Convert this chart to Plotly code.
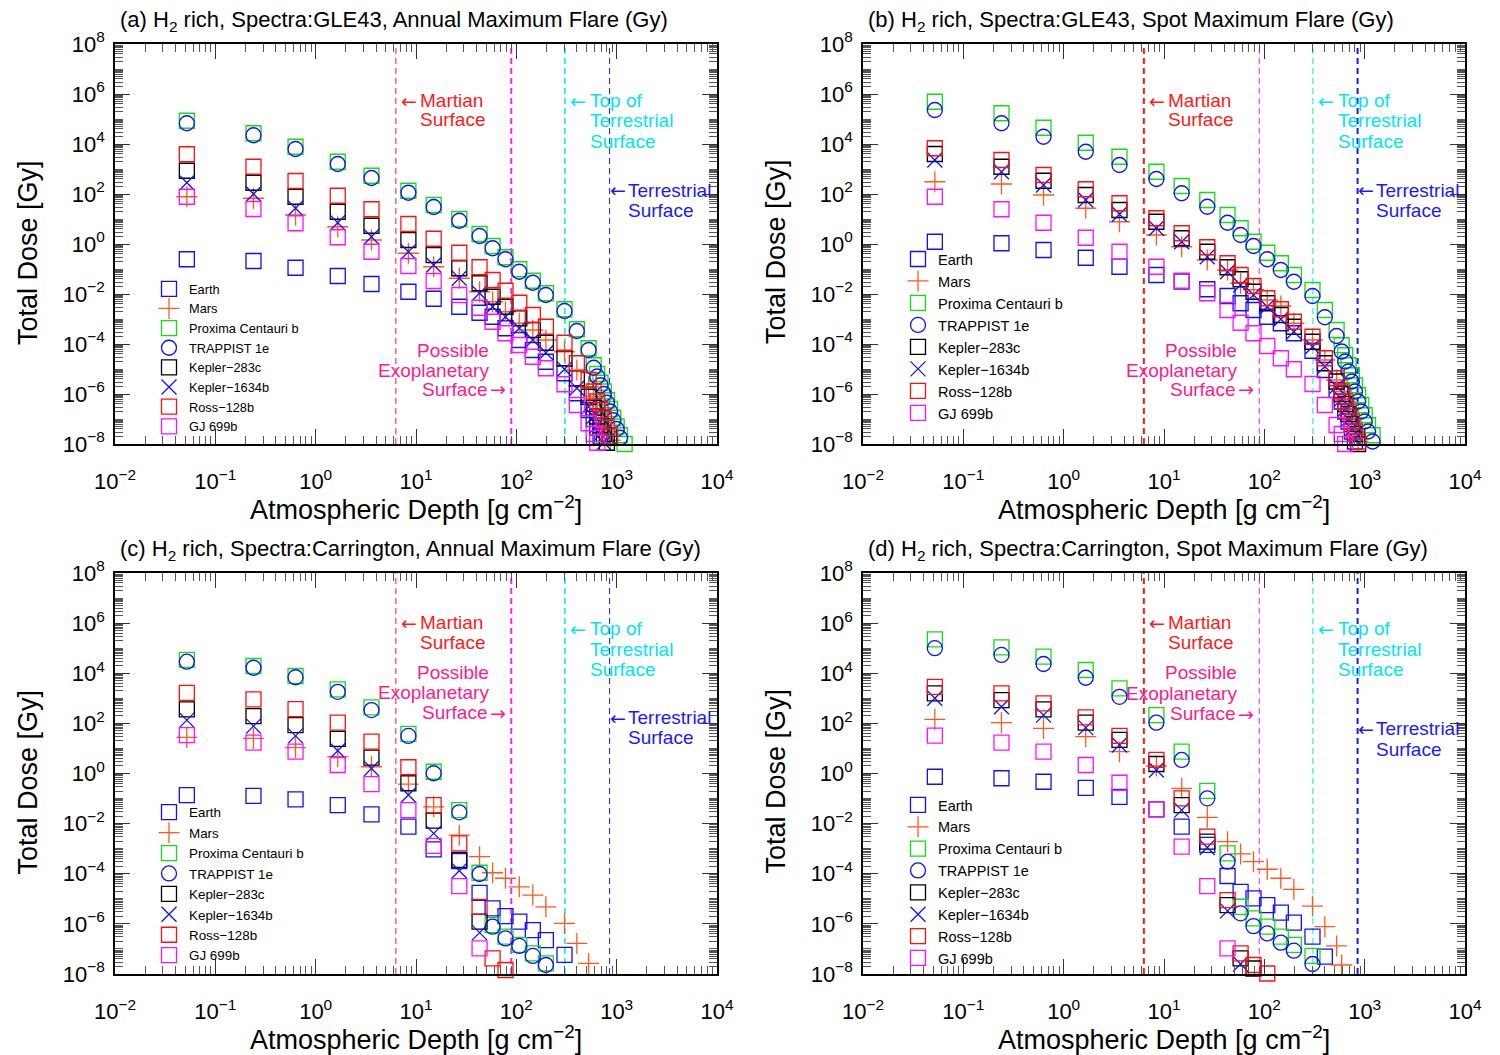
import math
import plotly.graph_objects as go

W, H = 1500, 1055
FONT = "Liberation Sans, Arial, Helvetica, sans-serif"
ARROW_FONT = "DejaVu Sans, Liberation Sans, sans-serif"

# ---------------- data ----------------
# Atmospheric depth grid [g cm^-2]
DEPTH = [0.052, 0.24, 0.63, 1.66, 3.6, 8.4, 15, 27, 43, 58, 78, 107, 146, 197,
         302, 401, 525, 590, 640, 690, 745, 800, 860, 925, 1000, 1080, 1200]

SERIES = ["Earth", "Mars", "Proxima Centauri b", "TRAPPIST 1e",
          "Kepler\u2212283c", "Kepler\u22121634b", "Ross\u2212128b", "GJ 699b"]

# log10(Total Dose [Gy]) per series, panel (a) GLE43 annual maximum
A_EARTH = [-0.61, -0.68, -0.95, -1.28, -1.6, -1.91, -2.19, -2.51, -2.75, -2.91, -3.37, -3.84, -4.24, -4.71, -5.17, -5.97, -6.64, -7.0, -7.35, -7.7, -8.05]
A_MARS = [1.89, 1.83, 1.16, 0.69, 0.16, -0.37, -0.91, -1.37, -1.91, -2.31, -2.71, -3.17, -3.44, -3.84, -4.31, -5.04, -5.71, -6.1, -6.45, -6.8, -7.15, -7.5, -7.85, -8.2]
A_PROX = [4.93, 4.43, 3.89, 3.29, 2.73, 2.13, 1.56, 1.0, 0.4, -0.08, -0.53, -1.01, -1.47, -1.97, -2.61, -3.41, -4.17, -4.85, -5.2, -5.55, -5.9, -6.25, -6.6, -6.95, -7.3, -7.65, -8.0]
A_TRAP = [4.83, 4.35, 3.8, 3.2, 2.64, 2.05, 1.48, 0.93, 0.32, -0.17, -0.61, -1.11, -1.55, -2.04, -2.68, -3.48, -4.24, -4.95, -5.3, -5.65, -6.0, -6.35, -6.7, -7.05, -7.4, -7.75, -8.1]
A_K283 = [2.93, 2.45, 1.89, 1.29, 0.73, 0.16, -0.44, -0.97, -1.57, -2.11, -2.51, -2.97, -3.44, -3.95, -4.57, -5.37, -6.11, -6.55, -6.9, -7.25, -7.6, -7.95, -8.3]
A_K1634 = [2.45, 2.0, 1.43, 0.85, 0.29, -0.31, -0.84, -1.37, -1.97, -2.51, -2.91, -3.37, -3.84, -4.35, -5.01, -5.77, -6.51, -6.9, -7.25, -7.6, -7.95, -8.3]
A_ROSS = [3.59, 3.09, 2.52, 1.93, 1.39, 0.8, 0.21, -0.35, -0.93, -1.44, -1.87, -2.35, -2.84, -3.31, -3.95, -4.77, -5.44, -5.9, -6.3, -6.65, -7.0, -7.35, -7.7, -8.05]
A_GJ = [1.89, 1.4, 0.83, 0.27, -0.31, -0.88, -1.48, -2.04, -2.55, -3.11, -3.57, -4.04, -4.51, -4.97, -5.61, -6.44, -7.17, -7.6, -7.95, -8.3]

# panel (b) GLE43 spot maximum
B_EARTH = [0.09, 0.03, -0.24, -0.55, -0.91, -1.24, -1.5, -1.81, -2.08, -2.37, -2.64, -2.91, -3.17, -3.57, -4.27, -5.04, -5.84, -6.3, -6.7, -7.1, -7.5, -7.9]
B_MARS = [2.49, 2.4, 1.96, 1.43, 0.89, 0.36, -0.11, -0.64, -1.04, -1.57, -1.83, -2.24, -2.48, -3.17, -3.84, -4.64, -5.44, -5.9, -6.3, -6.7, -7.1, -7.5, -7.9]
B_PROX = [5.69, 5.23, 4.65, 4.05, 3.49, 2.89, 2.32, 1.76, 1.16, 0.63, 0.09, -0.35, -0.77, -1.24, -1.84, -2.64, -3.44, -4.05, -4.45, -4.85, -5.25, -5.65, -6.05, -6.45, -6.85, -7.25, -7.65]
B_TRAP = [5.36, 4.83, 4.29, 3.69, 3.16, 2.6, 2.03, 1.49, 0.85, 0.36, -0.08, -0.61, -1.04, -1.51, -2.08, -2.93, -3.68, -4.3, -4.7, -5.1, -5.5, -5.9, -6.3, -6.7, -7.1, -7.5, -7.9]
B_K283 = [3.6, 3.09, 2.53, 1.96, 1.36, 0.89, 0.23, -0.31, -0.93, -1.41, -1.91, -2.37, -2.84, -3.31, -3.91, -4.77, -5.5, -6.0, -6.4, -6.8, -7.2, -7.6, -8.0]
B_K1634 = [3.36, 2.89, 2.36, 1.76, 1.19, 0.63, 0.09, -0.51, -1.11, -1.64, -2.04, -2.51, -3.01, -3.51, -4.11, -4.9, -5.7, -6.2, -6.6, -7.0, -7.4, -7.8, -8.2]
B_ROSS = [3.83, 3.36, 2.76, 2.19, 1.63, 1.03, 0.43, -0.13, -0.77, -1.24, -1.68, -2.17, -2.61, -3.11, -3.71, -4.57, -5.37, -5.9, -6.3, -6.7, -7.1, -7.5, -7.9, -8.2]
B_GJ = [1.89, 1.39, 0.85, 0.25, -0.31, -0.91, -1.47, -1.97, -2.64, -3.15, -3.57, -4.08, -4.57, -5.01, -5.6, -6.44, -7.24, -7.6, -8.0, -8.3]

# panel (c) Carrington annual maximum
C_EARTH = [-0.86, -0.89, -1.03, -1.26, -1.63, -2.12, -3.03, -3.5, -4.76, -5.38, -5.69, -5.91, -6.25, -6.65, -7.24]
C_MARS = [1.44, 1.4, 1.03, 0.67, 0.27, -0.42, -1.33, -2.46, -3.32, -3.96, -4.18, -4.52, -4.85, -5.32, -5.98, -6.78, -7.58]
C_PROX = [4.53, 4.29, 3.89, 3.36, 2.64, 1.58, 0.07, -1.46, -3.96, -6.05, -6.51, -6.84, -7.18, -7.58]
C_TRAP = [4.46, 4.22, 3.84, 3.26, 2.53, 1.5, 0.01, -1.55, -4.01, -6.11, -6.58, -6.88, -7.28, -7.64]
C_K283 = [2.56, 2.29, 1.93, 1.38, 0.63, -0.39, -1.88, -3.45, -5.91]
C_K1634 = [2.13, 1.89, 1.5, 0.91, 0.2, -0.86, -2.39, -3.88, -6.35]
C_ROSS = [3.22, 2.96, 2.57, 2.03, 1.27, 0.25, -1.26, -2.79, -5.32, -7.38, -7.84]
C_GJ = [1.53, 1.23, 0.87, 0.34, -0.42, -1.46, -2.89, -4.49, -6.98]

# panel (d) Carrington spot maximum
D_EARTH = [-0.13, -0.19, -0.33, -0.57, -0.93, -1.43, -2.12, -2.85, -4.09, -4.72, -4.98, -5.25, -5.55, -5.95, -6.51, -7.31]
D_MARS = [2.16, 2.03, 1.8, 1.47, 0.87, 0.3, -0.59, -1.75, -2.72, -3.21, -3.52, -3.82, -4.18, -4.62, -5.29, -6.11, -6.88, -7.64]
D_PROX = [5.35, 5.03, 4.66, 4.13, 3.4, 2.33, 0.87, -0.69, -3.19, -5.32, -5.78, -6.11, -6.51, -6.84, -7.28]
D_TRAP = [5.0, 4.73, 4.37, 3.82, 3.06, 2.03, 0.54, -0.99, -3.52, -5.58, -6.09, -6.38, -6.75, -7.07, -7.6]
D_K283 = [3.2, 2.93, 2.56, 2.03, 1.34, 0.38, -1.26, -2.72, -5.25, -7.38, -7.78]
D_K1634 = [3.0, 2.66, 2.33, 1.83, 1.14, 0.14, -1.46, -2.95, -5.48, -7.6]
D_ROSS = [3.46, 3.2, 2.8, 2.24, 1.5, 0.54, -0.99, -2.52, -5.05, -7.18, -7.64, -7.98]
D_GJ = [1.51, 1.23, 0.87, 0.34, -0.37, -1.43, -2.92, -4.49, -6.98]

PANEL_DATA = [
    [A_EARTH, A_MARS, A_PROX, A_TRAP, A_K283, A_K1634, A_ROSS, A_GJ],
    [B_EARTH, B_MARS, B_PROX, B_TRAP, B_K283, B_K1634, B_ROSS, B_GJ],
    [C_EARTH, C_MARS, C_PROX, C_TRAP, C_K283, C_K1634, C_ROSS, C_GJ],
    [D_EARTH, D_MARS, D_PROX, D_TRAP, D_K283, D_K1634, D_ROSS, D_GJ],
]

TITLES = [
    "(a) H<sub>2</sub> rich, Spectra:GLE43, Annual Maximum Flare (Gy)",
    "(b) H<sub>2</sub> rich, Spectra:GLE43, Spot Maximum Flare (Gy)",
    "(c) H<sub>2</sub> rich, Spectra:Carrington, Annual Maximum Flare (Gy)",
    "(d) H<sub>2</sub> rich, Spectra:Carrington, Spot Maximum Flare (Gy)",
]

# reference depths of the dashed vertical lines [g cm^-2]
MARTIAN_SURFACE = 6.3
EXOPLANET_SURFACE = 89
TOP_TERRESTRIAL = 305
TERRESTRIAL_SURFACE = 850

X_TICKS = [1e-2, 1e-1, 1e0, 1e1, 1e2, 1e3, 1e4]
X_TICKTEXT = ["10<sup>\u22122</sup>", "10<sup>\u22121</sup>", "10<sup>0</sup>", "10<sup>1</sup>",
              "10<sup>2</sup>", "10<sup>3</sup>", "10<sup>4</sup>"]
Y_TICKS = [1e-8, 1e-6, 1e-4, 1e-2, 1e0, 1e2, 1e4, 1e6, 1e8]
Y_TICKTEXT = ["10<sup>\u22128</sup>", "10<sup>\u22126</sup>", "10<sup>\u22124</sup>", "10<sup>\u22122</sup>",
              "10<sup>0</sup>", "10<sup>2</sup>", "10<sup>4</sup>", "10<sup>6</sup>", "10<sup>8</sup>"]

# ---------------- styles / layout ----------------
STYLES = [
    dict(symbol="square-open", color="#1010ff"),
    dict(symbol="cross-thin", color="#ff5a1e"),
    dict(symbol="square-open", color="#10e010"),
    dict(symbol="circle-open", color="#1010ff"),
    dict(symbol="square-open", color="#000000"),
    dict(symbol="x-thin", color="#1010ff"),
    dict(symbol="square-open", color="#ff1010"),
    dict(symbol="square-open", color="#ff10ff"),
]

# plot frames in pixels: left, right, top, bottom
FRAMES = [(115, 717, 44, 444), (863, 1465, 44, 444), (115, 717, 573, 974), (863, 1465, 573, 974)]
LEGEND_POS = [(149, 274, 12.8), (898, 243, 14.6), (149, 797, 13.4), (898, 789, 14.5)]
# dashed line widths: martian, exo, top-terrestrial, terrestrial
LINE_W = [(1, 2, 1.5, 1), (2, 1, 1, 2), (1, 2, 1.5, 1), (2, 1, 1, 2)]
# vertical text positions (px below frame top)
TXT_Y = [
    dict(mars=[57, 76], exo=[306, 326, 345], top=[57, 77, 97], terr=[146, 166]),
    dict(mars=[57, 76], exo=[306, 326, 345], top=[57, 77, 97], terr=[146, 166]),
    dict(mars=[50, 70], exo=[100, 120, 140], top=[56, 77, 97], terr=[145, 165]),
    dict(mars=[50, 70], exo=[100, 121, 141], top=[56, 77, 97], terr=[156, 177]),
]

RED, MAG, CYAN, BLUE, PINK = "#ff1a1a", "#ff22ff", "#00e6f0", "#1a1aff", "#ff1a8c"

fig = go.Figure()
annotations = []
layout = dict(
    width=W, height=H, margin=dict(l=0, r=0, t=0, b=0, autoexpand=False),
    paper_bgcolor="white", plot_bgcolor="white",
    font=dict(family=FONT, color="black"),
    showlegend=True,
)

for i in range(4):
    l, r, t, b = FRAMES[i]
    sfx = "" if i == 0 else str(i + 1)
    xa, ya = "x" + sfx, "y" + sfx
    leg = "legend" + sfx

    axis_common = dict(
        type="log", showline=True, linecolor="black", linewidth=1.5, mirror="allticks",
        ticks="inside", ticklen=15, tickwidth=1, tickcolor="#333", automargin=False,
        showgrid=False, zeroline=False, tickfont=dict(size=22, family=FONT),
        minor=dict(ticks="inside", ticklen=8, tickwidth=1, tickcolor="#555", dtick="D1", showgrid=False),
    )
    layout["xaxis" + sfx] = dict(axis_common, range=[-2, 4], domain=[l / W, r / W], anchor=ya,
                                 tickmode="array", tickvals=X_TICKS, ticktext=X_TICKTEXT,
                                 ticklabelstandoff=17)
    layout["yaxis" + sfx] = dict(axis_common, range=[-8, 8], domain=[1 - b / H, 1 - t / H], anchor=xa,
                                 tickmode="array", tickvals=Y_TICKS, ticktext=Y_TICKTEXT,
                                 ticklabelstandoff=4)

    # dashed reference lines
    lw = LINE_W[i]
    for val, col, w in [(MARTIAN_SURFACE, RED, lw[0]), (EXOPLANET_SURFACE, MAG, lw[1]),
                        (TOP_TERRESTRIAL, CYAN, lw[2]), (TERRESTRIAL_SURFACE, BLUE, lw[3])]:
        fig.add_trace(go.Scatter(x=[val, val], y=[1e-8, 1e8], mode="lines", xaxis=xa, yaxis=ya,
                                 line=dict(color=col, width=w, dash="6px,4px"),
                                 showlegend=False, hoverinfo="skip"))

    # data series
    for name, vals, st in zip(SERIES, PANEL_DATA[i], STYLES):
        fig.add_trace(go.Scatter(
            x=DEPTH[:len(vals)], y=[10 ** v for v in vals], mode="markers", name=name,
            xaxis=xa, yaxis=ya, legend=leg, cliponaxis=False,
            marker=dict(symbol=st["symbol"], size=15, color=st["color"],
                        line=dict(color=st["color"], width=1.3)),
        ))

    lx, ly, fs = LEGEND_POS[i]
    layout[leg] = dict(x=lx / W, y=1 - ly / H, xanchor="left", yanchor="top",
                       bgcolor="rgba(0,0,0,0)", borderwidth=0, tracegroupgap=0,
                       font=dict(size=fs, family=FONT, color="black"))

    # panel title
    annotations.append(dict(text=TITLES[i], xref="paper", yref="paper", x=(l + 3) / W, y=1 - (t - 23) / H,
                            xanchor="left", yanchor="middle", showarrow=False,
                            font=dict(size=22, family=FONT, color="black")))
    # axis titles
    annotations.append(dict(text="Atmospheric Depth [g cm<sup>\u22122</sup>]", xref=xa + " domain", yref=ya + " domain",
                            x=0.5, y=0, yshift=-64, xanchor="center", yanchor="middle", showarrow=False,
                            font=dict(size=27, family=FONT, color="black")))
    annotations.append(dict(text="Total Dose [Gy]", xref=xa + " domain", yref=ya + " domain",
                            x=0, y=0.5, xshift=-87, yshift=-8, xanchor="center", yanchor="middle", textangle=-90,
                            showarrow=False, font=dict(size=27, family=FONT, color="black")))

    ty = TXT_Y[i]

    def txt(text, val, xshift, ypx, color, anchor, family=FONT):
        annotations.append(dict(text=text, xref=xa, yref=ya + " domain", x=math.log10(val), y=1,
                                xshift=xshift, yshift=-ypx, xanchor=anchor, yanchor="middle",
                                showarrow=False, font=dict(size=19, family=family, color=color)))

    # Martian surface
    txt("\u2190", MARTIAN_SURFACE, 3, ty["mars"][0], RED, "left", ARROW_FONT)
    txt("Martian", MARTIAN_SURFACE, 22, ty["mars"][0], RED, "left")
    txt("Surface", MARTIAN_SURFACE, 22, ty["mars"][1], RED, "left")
    # top of terrestrial surface
    txt("\u2190", TOP_TERRESTRIAL, 3, ty["top"][0], CYAN, "left", ARROW_FONT)
    txt("Top of", TOP_TERRESTRIAL, 23, ty["top"][0], CYAN, "left")
    txt("Terrestrial", TOP_TERRESTRIAL, 23, ty["top"][1], CYAN, "left")
    txt("Surface", TOP_TERRESTRIAL, 23, ty["top"][2], CYAN, "left")
    # terrestrial surface
    txt("\u2190", TERRESTRIAL_SURFACE, -2, ty["terr"][0], BLUE, "left", ARROW_FONT)
    txt("Terrestrial", TERRESTRIAL_SURFACE, 16, ty["terr"][0], BLUE, "left")
    txt("Surface", TERRESTRIAL_SURFACE, 16, ty["terr"][1], BLUE, "left")
    # possible exoplanetary surface
    txt("Possible", EXOPLANET_SURFACE, -20, ty["exo"][0], PINK, "right")
    txt("Exoplanetary", EXOPLANET_SURFACE, -20, ty["exo"][1], PINK, "right")
    txt("Surface", EXOPLANET_SURFACE, -22, ty["exo"][2], PINK, "right")
    txt("\u2192", EXOPLANET_SURFACE, -3, ty["exo"][2], PINK, "right", ARROW_FONT)

layout["annotations"] = annotations
fig.update_layout(**layout)
fig.write_html("out.html")
